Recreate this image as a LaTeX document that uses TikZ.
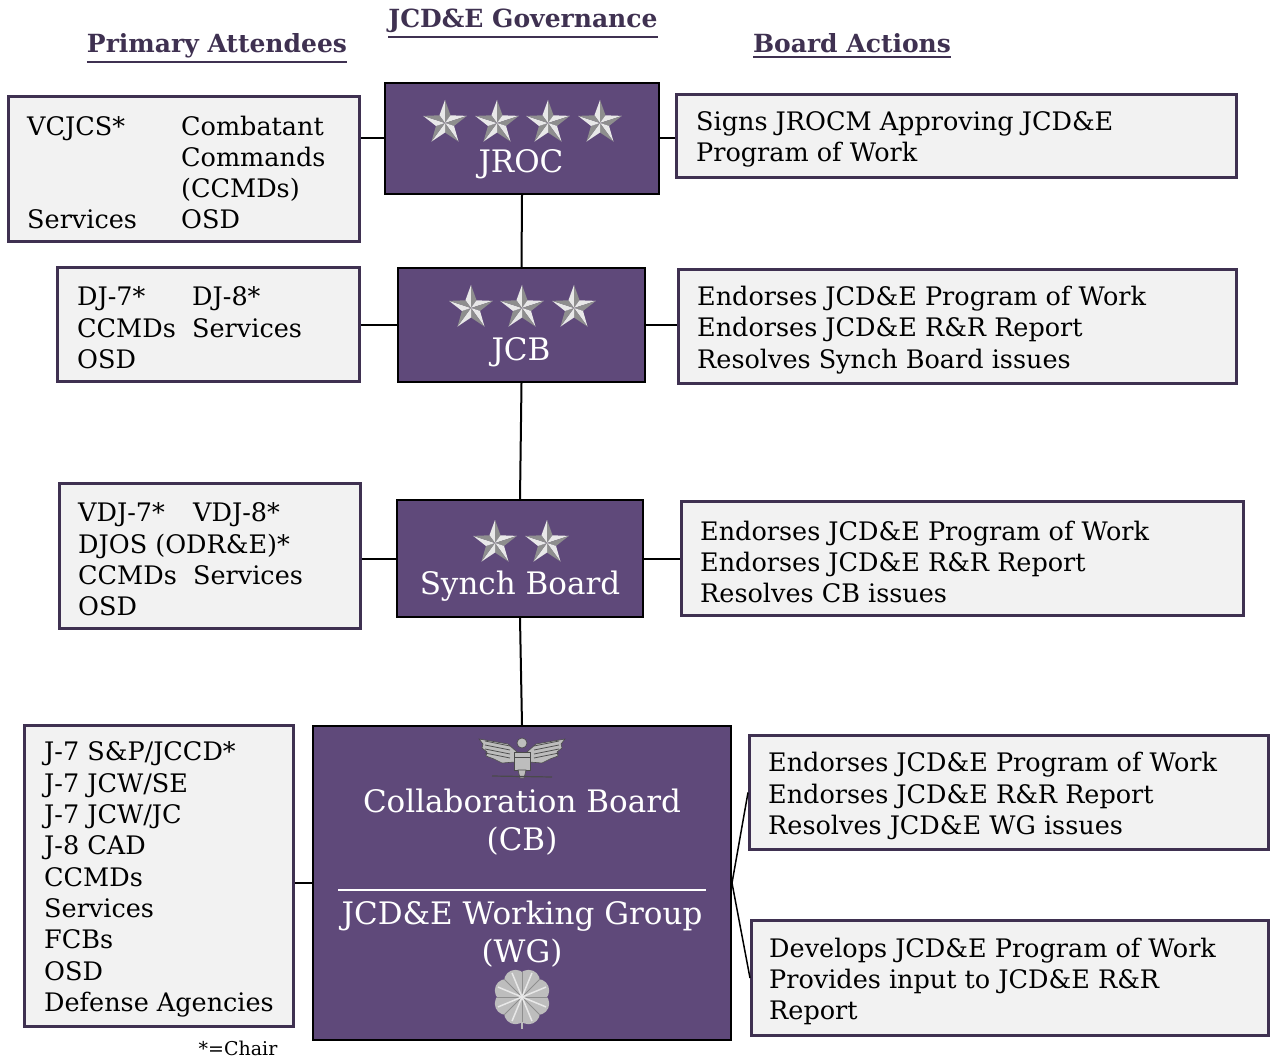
\documentclass[tikz,border=0pt]{standalone}
\usepackage{fontspec}
\setmainfont{DejaVu Serif}
\usetikzlibrary{positioning}

\definecolor{boardpurple}{HTML}{5F497A}
\definecolor{edgepurple}{HTML}{3F3151}
\definecolor{boxgray}{HTML}{F2F2F2}
\definecolor{starlight}{HTML}{E8E8E8}
\definecolor{stardark}{HTML}{8E8E8E}
\definecolor{silvergray}{HTML}{BDBDBD}
\definecolor{eagledark}{HTML}{4A4A4A}

\newcommand{\bodysize}{\fontsize{25.5}{31.3}\selectfont}
\newcommand{\boardsize}{\fontsize{31}{36}\selectfont}
\newcommand{\headsize}{\fontsize{25}{29}\selectfont}
\newcommand{\headline}[1]{\vtop{\hbox{#1}\kern2.5pt\hrule height 2pt}}
\newcommand{\colpair}[3]{\makebox[#1][l]{#2}#3}

\tikzset{
  board/.style={draw=black, line width=2pt, fill=boardpurple},
  boardtext/.style={text=white, font=\boardsize, inner sep=0pt, anchor=base},
  member/.style={draw=edgepurple, line width=3pt, fill=boxgray},
  memtext/.style={font=\bodysize, align=left, inner sep=0pt, yshift=-3.5pt},
  link/.style={black, line width=2pt},
  header/.style={text=edgepurple, font=\headsize\bfseries, inner sep=0pt, anchor=base},
  silverstar/.pic={
    \foreach \k in {0,...,4}{
      \fill[starlight] (0,0) -- (-90+72*\k:23) -- (-126+72*\k:9.5) -- cycle;
      \fill[stardark] (0,0) -- (-90+72*\k:23) -- (-54+72*\k:9.5) -- cycle;
    }
  },
  oakleaf/.pic={
    \fill[silvergray] (0,0) circle (19);
    \foreach \k in {0,...,7} \fill[silvergray] (22.5+45*\k:17) circle (11.5);
    \foreach \k in {0,...,7} \draw[stardark, line width=1pt] (0,0) -- (45*\k:25);
    \foreach \k in {0,...,7} \draw[starlight, line width=1.5pt] (0,0) -- (22.5+45*\k:26);
    \draw[silvergray, line width=2pt] (90:25) -- (90:32);
  },
  eagle/.pic={
    \foreach \s in {-1,1}{
      \begin{scope}[xscale=\s]
        \fill[silvergray, draw=eagledark, line width=0.6pt] (5,-6) -- (14,-14) -- (43,-19) -- (39,-14) -- (40,-10) -- (35,-6) -- (36,-2) -- (28,1) -- (20,5) -- (7,4) -- cycle;
        \foreach \yy in {-13,-9,-5,-1}
          \draw[eagledark, line width=0.7pt] (12,\yy+1) -- (37,\yy-4);
      \end{scope}
    }
    \fill[silvergray, draw=eagledark, line width=0.6pt] (-8,-6) rectangle (8,12);
    \draw[eagledark, line width=0.6pt] (-8,-1) -- (8,-1);
    \fill[silvergray, draw=eagledark, line width=0.6pt] (0,-15) circle (5);
    \fill[silvergray, draw=eagledark, line width=0.6pt] (-4,12) -- (4,12) -- (2,20) -- (-2,20) -- cycle;
    \draw[eagledark, line width=1.2pt] (-30,18) -- (30,19);
  }
}

\begin{document}
\begin{tikzpicture}[x=1pt, y=-1pt]
\useasboundingbox (0,0) rectangle (1272,1059);

% headings
\node[header] (govhead) at (523,28) {\headline{JCD\&E Governance}};
\node[header] (atthead) at (217,53) {\headline{Primary Attendees}};
\node[header] (acthead) at (852,53) {\headline{Board Actions}};

% boards
\node[board, minimum width=274, minimum height=111] (jroc) at (522,138.5) {};
\node[board, minimum width=247, minimum height=114] (jcb) at (521.5,325) {};
\node[board, minimum width=246, minimum height=117] (synch) at (520,558.5) {};
\node[board, minimum width=418, minimum height=314] (cb) at (522,883) {};

\foreach \sx in {445,497,548,600} \pic at (\sx,123) {silverstar};
\foreach \sx in {471,522,574} \pic at (\sx,308) {silverstar};
\foreach \sx in {495,547} \pic at (\sx,543) {silverstar};
\pic at (522,758) {eagle};
\pic at (522,997) {oakleaf};

\node[boardtext] (jroclbl) at (521,173) {JROC};
\node[boardtext] (jcblbl) at (521,360) {JCB};
\node[boardtext] (synchlbl) at (520,594) {Synch Board};
\node[boardtext] (cbname) at (522,812) {Collaboration Board};
\node[boardtext] (cbabbr) at (522,850) {(CB)};
\node[boardtext] (wgname) at (522,924) {JCD\&E Working Group};
\node[boardtext] (wgabbr) at (522,962) {(WG)};
\draw[white, line width=1.2pt] (338,890) -- (706,890);

% attendees
\node[member, minimum width=351, minimum height=145] (att1) at (184,169) {};
\node[member, minimum width=302, minimum height=114] (att2) at (208.5,324.5) {};
\node[member, minimum width=301, minimum height=145] (att3) at (210,556) {};
\node[member, minimum width=269, minimum height=301] (att4) at (159,876) {};

\node[memtext, right=20pt of att1.west] (att1txt) {\colpair{154pt}{VCJCS*}{Combatant}\\\colpair{154pt}{}{Commands}\\\colpair{154pt}{}{(CCMDs)}\\\colpair{154pt}{Services}{OSD}};
\node[memtext, right=21pt of att2.west] (att2txt) {\colpair{115pt}{DJ-7*}{DJ-8*}\\\colpair{115pt}{CCMDs}{Services}\\OSD};
\node[memtext, right=20pt of att3.west] (att3txt) {\colpair{115pt}{VDJ-7*}{VDJ-8*}\\DJOS (ODR\&E)*\\\colpair{115pt}{CCMDs}{Services}\\OSD};
\node[memtext, right=21pt of att4.west] (att4txt) {J-7 S\&P/JCCD*\\J-7 JCW/SE\\J-7 JCW/JC\\J-8 CAD\\CCMDs\\Services\\FCBs\\OSD\\Defense Agencies};
\node[font=\fontsize{19}{22}\selectfont, inner sep=0pt, anchor=base] (chair) at (238,1055) {*=Chair};

% actions
\node[member, minimum width=560, minimum height=83] (act1) at (956.5,136) {};
\node[member, minimum width=558, minimum height=114] (act2) at (957.5,326.5) {};
\node[member, minimum width=562, minimum height=114] (act3) at (962.5,558.5) {};
\node[member, minimum width=519, minimum height=114] (act4a) at (1009,792.5) {};
\node[member, minimum width=517, minimum height=115] (act4b) at (1010,978) {};

\node[memtext, right=21pt of act1.west] (act1txt) {Signs JROCM Approving JCD\&E\\Program of Work};
\node[memtext, right=20pt of act2.west] (act2txt) {Endorses JCD\&E Program of Work\\Endorses JCD\&E R\&R Report\\Resolves Synch Board issues};
\node[memtext, right=20pt of act3.west] (act3txt) {Endorses JCD\&E Program of Work\\Endorses JCD\&E R\&R Report\\Resolves CB issues};
\node[memtext, right=20pt of act4a.west] (act4atxt) {Endorses JCD\&E Program of Work\\Endorses JCD\&E R\&R Report\\Resolves JCD\&E WG issues};
\node[memtext, right=19pt of act4b.west] (act4btxt) {Develops JCD\&E Program of Work\\Provides input to JCD\&E R\&R\\Report};

% connectors
\draw[link] (jroc.south) -- (jcb.north);
\draw[link] (jcb.south) -- (synch.north);
\draw[link] (synch.south) -- (cb.north);
\draw[link] (jroc.west) -- (att1.east |- jroc.west);
\draw[link] (jcb.west) -- (att2.east |- jcb.west);
\draw[link] (synch.west) -- (att3.east |- synch.west);
\draw[link] (cb.west) -- (att4.east |- cb.west);
\draw[link] (jroc.east) -- (act1.west |- jroc.east);
\draw[link] (jcb.east) -- (act2.west |- jcb.east);
\draw[link] (synch.east) -- (act3.west |- synch.east);
\draw[link, line width=1.5pt] (act4a.west) -- (cb.east) -- (act4b.west);

\end{tikzpicture}
\end{document}
